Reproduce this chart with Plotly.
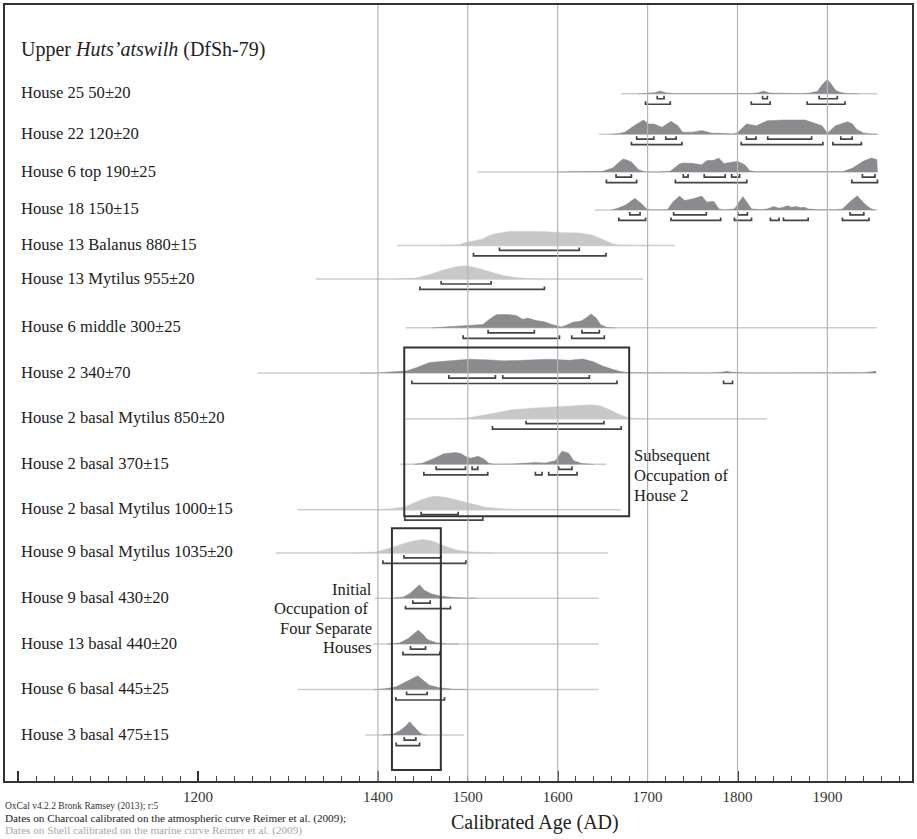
import plotly.graph_objects as go

# ======================= DATA =======================
LABELS = ["House 25 50±20", "House 22 120±20", "House 6 top 190±25", "House 18 150±15",
          "House 13 Balanus 880±15", "House 13 Mytilus 955±20", "House 6 middle 300±25",
          "House 2 340±70", "House 2 basal Mytilus 850±20", "House 2 basal 370±15",
          "House 2 basal Mytilus 1000±15", "House 9 basal Mytilus 1035±20",
          "House 9 basal 430±20", "House 13 basal 440±20", "House 6 basal 445±25",
          "House 3 basal 475±15"]
MATERIAL = ["charcoal", "charcoal", "charcoal", "charcoal", "shell", "shell", "charcoal",
            "charcoal", "shell", "charcoal", "shell", "shell", "charcoal", "charcoal",
            "charcoal", "charcoal"]
SPAN_START = [1670.6, 1645.8, 1511, 1641.2, 1421.5, 1330.8, 1430.7, 1266, 1431, 1425,
              1310.5, 1286.3, 1396.3, 1395, 1311, 1386]
SPAN_END = [1955.7, 1955.7, 1955.7, 1955.7, 1730.5, 1695.2, 1955, 1954, 1833, 1654,
            1670.4, 1655.6, 1645.6, 1645.6, 1645.6, 1495.6]

# calibrated probability profiles (year, relative probability)
h25_yr = [1690, 1700, 1708, 1714, 1720, 1730, 1760, 1800, 1815, 1822, 1829, 1836, 1850, 1870,
          1880, 1889, 1894, 1900, 1904, 1909, 1914, 1920, 1935]
h25_p = [0, 0.02, 0.08, 0.2, 0.08, 0.02, 0.01, 0.01, 0.02, 0.05, 0.19, 0.05, 0.02, 0.02,
         0.05, 0.17, 0.64, 1.0, 0.71, 0.24, 0.1, 0.03, 0]
h22_yr = [1660, 1668.7, 1675, 1685, 1695.4, 1701, 1707, 1716, 1726, 1733.6, 1739, 1750, 1760,
          1766, 1772, 1777, 1783, 1795, 1800, 1806, 1810, 1821, 1833, 1852, 1875, 1886, 1894,
          1900, 1903.4, 1909, 1922.5, 1928, 1932, 1940, 1947, 1955.7]
h22_p = [0, 0.05, 0.15, 0.6, 1.0, 0.72, 0.72, 0.49, 0.91, 0.6, 0.14, 0.14, 0.26, 0.14, 0.07,
         0.07, 0.05, 0.02, 0.1, 0.49, 0.72, 0.6, 0.95, 1.0, 1.0, 0.77, 0.6, 0.07, 0.26, 0.6,
         0.88, 0.72, 0.37, 0.09, 0.02, 0]
h6top_yr = [1600, 1640, 1650, 1661, 1667, 1672.5, 1677, 1682, 1690, 1697, 1710, 1725, 1729.8,
            1735, 1739, 1749, 1760, 1766, 1773.7, 1779, 1785, 1794.7, 1800, 1808, 1813.7, 1820,
            1850, 1900, 1916.8, 1928, 1939.7, 1949, 1955, 1955.7]
h6top_p = [0, 0.01, 0.05, 0.29, 0.6, 0.93, 0.85, 0.71, 0.17, 0.02, 0, 0.05, 0.29, 0.55, 0.64,
           0.62, 0.52, 0.81, 0.83, 1.0, 0.6, 0.69, 0.76, 0.52, 0.1, 0.02, 0.01, 0.01, 0.02,
           0.29, 0.76, 1.0, 0.88, 0]
h18_yr = [1660, 1666.8, 1676, 1685.9, 1693.5, 1699, 1705, 1722, 1727.9, 1735.5, 1741.2, 1750.8,
          1760.3, 1766, 1770, 1773.7, 1779.4, 1785, 1796.6, 1801, 1806, 1811, 1815.6, 1825,
          1832.8, 1840.5, 1846.2, 1851, 1855.7, 1860, 1865.3, 1870, 1874.8, 1878.6, 1890, 1910,
          1916.8, 1924.4, 1933.2, 1941.6, 1948, 1953]
h18_p = [0, 0.12, 0.36, 0.83, 0.43, 0.07, 0, 0.02, 0.55, 0.98, 0.67, 0.79, 0.98, 0.55, 0.6,
         0.6, 0.07, 0, 0.07, 0.5, 0.95, 0.5, 0.07, 0.02, 0.07, 0.24, 0.12, 0.2, 0.29, 0.2, 0.24,
         0.17, 0.19, 0.07, 0.01, 0.02, 0.07, 0.55, 1.0, 0.43, 0.1, 0]
h13bal_yr = [1470, 1479.6, 1490, 1498, 1507, 1516.7, 1524, 1531.5, 1546, 1579.6, 1609, 1624,
             1639, 1650, 1661, 1668.5, 1680]
h13bal_p = [0, 0.02, 0.05, 0.21, 0.32, 0.45, 0.7, 0.83, 0.98, 0.98, 0.9, 0.88, 0.71, 0.4,
            0.12, 0.02, 0]
h13myt_yr = [1420, 1442.6, 1457.4, 1472, 1487, 1496.3, 1509.3, 1524, 1539, 1553.7, 1572, 1590]
h13myt_p = [0, 0.07, 0.31, 0.62, 0.86, 0.93, 0.79, 0.5, 0.24, 0.1, 0.02, 0]
h6mid_yr = [1460, 1479.6, 1498, 1516.7, 1524, 1531.5, 1542.6, 1553.7, 1561, 1566.7, 1576,
            1585.2, 1592.6, 1603.7, 1609, 1616.7, 1626, 1631.5, 1637, 1642.6, 1648, 1655.6,
            1665]
h6mid_p = [0, 0.07, 0.17, 0.24, 0.6, 0.93, 0.95, 0.88, 0.6, 0.69, 0.52, 0.43, 0.26, 0.07,
           0.17, 0.4, 0.48, 0.69, 0.98, 0.71, 0.21, 0.02, 0]
h2_yr = [1380, 1400, 1413, 1431.5, 1442.6, 1457.4, 1479.6, 1501.9, 1524, 1539, 1561, 1590.7,
         1613, 1627.8, 1639, 1650, 1661, 1670.4, 1680, 1700, 1770, 1782, 1788, 1794, 1810,
         1940, 1950, 1954, 1954.1]
h2_p = [0, 0.01, 0.07, 0.14, 0.38, 0.74, 0.86, 0.98, 0.93, 0.86, 0.9, 0.98, 0.9, 1.0, 0.81,
        0.5, 0.26, 0.1, 0.02, 0.01, 0.01, 0.05, 0.12, 0.05, 0.01, 0.02, 0.1, 0.12, 0]
h2myt850_yr = [1480, 1497.4, 1512, 1530.7, 1549, 1571.5, 1597.4, 1616, 1638, 1647.4, 1656.7,
               1667.8, 1678.9, 1690]
h2myt850_p = [0, 0.02, 0.19, 0.43, 0.62, 0.74, 0.83, 0.9, 0.98, 0.9, 0.67, 0.31, 0.05, 0]
h2b370_yr = [1440, 1449.3, 1460.4, 1473.3, 1486.3, 1493, 1497.4, 1503, 1511.5, 1517.8, 1523.3,
             1530, 1545, 1556.7, 1575.2, 1586.3, 1597.4, 1604.8, 1612.2, 1617.8, 1627, 1640]
h2b370_p = [0, 0.07, 0.36, 0.74, 0.83, 0.75, 0.55, 0.43, 0.57, 0.38, 0.07, 0.01, 0.01, 0.05,
            0.12, 0.1, 0.26, 0.93, 0.79, 0.26, 0.05, 0]
h2myt1000_yr = [1395, 1412.2, 1430.7, 1445.6, 1456.7, 1464, 1475.2, 1490, 1504.8, 1519.6,
                1541.9, 1560]
h2myt1000_p = [0, 0.05, 0.21, 0.64, 0.88, 0.95, 0.88, 0.64, 0.36, 0.17, 0.05, 0]
h9myt_yr = [1370, 1398.1, 1416.7, 1431.5, 1442.6, 1450, 1461, 1472.2, 1487, 1505.6, 1527.8]
h9myt_p = [0, 0.07, 0.4, 0.71, 0.88, 0.95, 0.83, 0.52, 0.21, 0.05, 0]
h9b430_yr = [1415, 1427.8, 1435.2, 1441.9, 1446.3, 1451.9, 1459.3, 1470.4, 1483.3, 1498, 1510]
h9b430_p = [0, 0.07, 0.31, 0.69, 0.95, 0.55, 0.31, 0.14, 0.05, 0.01, 0]
h13b440_yr = [1410, 1424, 1433.3, 1439.6, 1444.8, 1450, 1455.6, 1464.8, 1476, 1490]
h13b440_p = [0, 0.07, 0.38, 0.69, 0.98, 0.69, 0.31, 0.1, 0.01, 0]
h6b445_yr = [1395, 1408, 1420.4, 1431.5, 1438.9, 1444.4, 1450, 1457.4, 1468.5, 1483.3, 1500]
h6b445_p = [0, 0.05, 0.19, 0.55, 0.79, 0.98, 0.67, 0.31, 0.12, 0.02, 0]
h3b475_yr = [1405, 1416.7, 1424, 1430.4, 1435.2, 1440.7, 1446.3, 1450, 1455]
h3b475_p = [0, 0.07, 0.29, 0.6, 0.95, 0.55, 0.19, 0.02, 0]

# 68.2% and 95.4% highest probability ranges (AD)
h25_r68 = [[1710.7, 1718.3], [1827.9, 1833.2], [1890.8, 1911]]
h25_r95 = [[1697.7, 1725.2], [1815.3, 1836.3], [1877.5, 1919.5]]
h22_r68 = [[1687.8, 1706.9], [1720.2, 1731.7], [1809.9, 1820.6], [1833.6, 1882.4], [1914.9, 1927.5]]
h22_r95 = [[1682, 1738.2], [1804.2, 1895], [1906.1, 1937.8]]
h6top_r68 = [[1664.9, 1682], [1739.7, 1745], [1763, 1786.3], [1793.5, 1802.3], [1938.9, 1953]]
h6top_r95 = [[1654.2, 1687.8], [1730.9, 1810.3], [1927.1, 1955.7]]
h18_r68 = [[1680.2, 1691.6], [1729, 1765.3], [1800.4, 1811], [1925.2, 1940.5]]
h18_r95 = [[1668, 1697.7], [1726, 1781.3], [1796.6, 1815.6], [1836.6, 1846.2], [1851.1, 1878.6],
           [1916.8, 1946.2]]
h13bal_r68 = [[1535.2, 1624]]
h13bal_r95 = [[1506.3, 1653.7]]
h13myt_r68 = [[1470.4, 1525.9]]
h13myt_r95 = [[1446.7, 1585.2]]
h6mid_r68 = [[1522.6, 1574], [1627, 1646.3]]
h6mid_r95 = [[1494.8, 1601.9], [1615.6, 1651.9]]
h2_r68 = [[1478.9, 1530.7], [1538.9, 1635.2]]
h2_r95 = [[1437.8, 1665.9], [1784.5, 1794.5]]
h2myt850_r68 = [[1564.8, 1651.5]]
h2myt850_r95 = [[1527.4, 1670.7]]
h2b370_r68 = [[1464.8, 1497.4], [1504.8, 1511.1], [1601.1, 1615.9]]
h2b370_r95 = [[1451.1, 1522.2], [1575.2, 1582.6], [1590, 1621.5]]
h2myt1000_r68 = [[1448.1, 1489.3]]
h2myt1000_r95 = [[1430, 1516.7]]
h9myt_r68 = [[1428.9, 1470.4]]
h9myt_r95 = [[1405.6, 1497.8]]
h9b430_r68 = [[1438.9, 1458.1]]
h9b430_r95 = [[1430.7, 1480.7]]
h13b440_r68 = [[1436.3, 1453]]
h13b440_r95 = [[1427.8, 1468.9]]
h6b445_r68 = [[1431.9, 1454.8]]
h6b445_r95 = [[1420, 1474.1]]
h3b475_r68 = [[1429.3, 1442.2]]
h3b475_r95 = [[1420.4, 1446.3]]

PROFILE_YEARS = [h25_yr, h22_yr, h6top_yr, h18_yr, h13bal_yr, h13myt_yr, h6mid_yr, h2_yr,
                 h2myt850_yr, h2b370_yr, h2myt1000_yr, h9myt_yr, h9b430_yr, h13b440_yr,
                 h6b445_yr, h3b475_yr]
PROFILE_PROB = [h25_p, h22_p, h6top_p, h18_p, h13bal_p, h13myt_p, h6mid_p, h2_p, h2myt850_p,
                h2b370_p, h2myt1000_p, h9myt_p, h9b430_p, h13b440_p, h6b445_p, h3b475_p]
RANGES_68 = [h25_r68, h22_r68, h6top_r68, h18_r68, h13bal_r68, h13myt_r68, h6mid_r68, h2_r68,
             h2myt850_r68, h2b370_r68, h2myt1000_r68, h9myt_r68, h9b430_r68, h13b440_r68,
             h6b445_r68, h3b475_r68]
RANGES_95 = [h25_r95, h22_r95, h6top_r95, h18_r95, h13bal_r95, h13myt_r95, h6mid_r95, h2_r95,
             h2myt850_r95, h2b370_r95, h2myt1000_r95, h9myt_r95, h9b430_r95, h13b440_r95,
             h6b445_r95, h3b475_r95]

# grouping boxes (AD extents)
BOX_SUBSEQUENT = [1429.3, 1679.5]
BOX_INITIAL = [1415.6, 1470.0]

# axis
LABEL_YEARS = [1200, 1400, 1500, 1600, 1700, 1800, 1900]
MAJOR_TICKS = [1000, 1200, 1400, 1600, 1800]
GRID_YEARS = [1400, 1500, 1600, 1700, 1800, 1900]

# ======================= LAYOUT CONSTANTS =======================
W, H = 917, 839
ML, MR, MT, MB = 5, 4, 3, 58
ROW_Y = [92, 132.5, 170.5, 208.5, 244, 277.7, 326.7, 372, 417.7, 463.5, 509, 552.3, 597.7,
         643.7, 689.3, 735]
PEAK_PX = 14.2
BR68_OFF, BR95_OFF, BR_TICK = 5.0, 10.5, 3.0
FONT = "Liberation Serif"
DARK = "#8a8a8f"
LIGHT = "#c8c8cb"
BASE_COL = "#cdcdcd"
BR_COL = "#444444"
FRAME = "#333333"

PLOT_W = W - ML - MR
PLOT_H = H - MT - MB


def px_x(px):
    return (px - ML) / PLOT_W


def px_y(py):
    return (H - MB - py) / PLOT_H


fig = go.Figure()

for i in range(len(LABELS)):
    yb = ROW_Y[i]
    col = DARK if MATERIAL[i] == "charcoal" else LIGHT
    # baseline
    fig.add_trace(go.Scatter(x=[SPAN_START[i], SPAN_END[i]], y=[yb, yb], mode="lines",
                             line=dict(color=BASE_COL, width=1.5), hoverinfo="skip",
                             showlegend=False))
    # probability distribution
    fig.add_trace(go.Scatter(x=PROFILE_YEARS[i], y=[yb - PEAK_PX * p for p in PROFILE_PROB[i]],
                             mode="lines", fill="toself", fillcolor=col,
                             line=dict(color=col, width=0.5), hoverinfo="skip",
                             showlegend=False))
    # range brackets
    bx, by = [], []
    for ranges, off in ((RANGES_68[i], BR68_OFF), (RANGES_95[i], BR95_OFF)):
        yy = yb + off
        for a, b in ranges:
            bx += [a, a, b, b, None]
            by += [yy - BR_TICK, yy, yy, yy - BR_TICK, None]
    fig.add_trace(go.Scatter(x=bx, y=by, mode="lines", line=dict(color=BR_COL, width=1.7),
                             hoverinfo="skip", showlegend=False))

# dummy trace so the major-tick overlay axis is rendered
fig.add_trace(go.Scatter(x=[1000], y=[-1000], xaxis="x2", mode="markers",
                         marker=dict(opacity=0), hoverinfo="skip", showlegend=False))

shapes = []
for yr in GRID_YEARS:
    shapes.append(dict(type="line", xref="x", yref="paper", x0=yr, x1=yr, y0=0, y1=1,
                       line=dict(color="#b4b4b4", width=1.2), layer="above"))
shapes.append(dict(type="rect", xref="x", yref="y", x0=BOX_SUBSEQUENT[0], x1=BOX_SUBSEQUENT[1],
                   y0=346.5, y1=515.5, line=dict(color=FRAME, width=2), layer="above"))
shapes.append(dict(type="rect", xref="x", yref="y", x0=BOX_INITIAL[0], x1=BOX_INITIAL[1],
                   y0=527.7, y1=770, line=dict(color=FRAME, width=2), layer="above"))

ann = []
ann.append(dict(text="Upper <i>Huts’atswilh</i> (DfSh-79)", xref="paper", yref="y",
                x=px_x(19), y=47.5, xanchor="left", yanchor="middle", showarrow=False,
                font=dict(family=FONT, size=20, color="#222")))
for i, lab in enumerate(LABELS):
    ann.append(dict(text=lab, xref="paper", yref="y", x=px_x(19), y=ROW_Y[i] - 1,
                    xanchor="left", yanchor="middle", showarrow=False,
                    font=dict(family=FONT, size=16.6, color="#222")))
for txt, yy in (("Subsequent", 455), ("Occupation of", 475), ("House 2", 494.5)):
    ann.append(dict(text=txt, xref="paper", yref="y", x=px_x(633), y=yy, xanchor="left",
                    yanchor="middle", showarrow=False,
                    font=dict(family=FONT, size=16.5, color="#222")))
for txt, yy in (("Initial", 589), ("Occupation of\u00a0", 608.5), ("Four Separate", 628),
                ("Houses", 647.5)):
    ann.append(dict(text=txt, xref="paper", yref="y", x=px_x(374), y=yy, xanchor="right",
                    yanchor="middle", showarrow=False,
                    font=dict(family=FONT, size=16.5, color="#222")))
ann.append(dict(text="Calibrated Age (AD)", xref="paper", yref="paper", x=px_x(536),
                y=px_y(823), xanchor="center", yanchor="middle", showarrow=False,
                font=dict(family=FONT, size=20, color="#222")))
ann.append(dict(text="OxCal v4.2.2 Bronk Ramsey (2013); r:5", xref="paper", yref="paper",
                x=px_x(4), y=px_y(807), xanchor="left", yanchor="middle", showarrow=False,
                borderpad=0, font=dict(family=FONT, size=9.5, color="#333")))
ann.append(dict(text="Dates on Charcoal calibrated on the atmospheric curve Reimer et al. (2009);",
                xref="paper", yref="paper", x=px_x(4), y=px_y(818.5), xanchor="left",
                yanchor="middle", showarrow=False, borderpad=0,
                font=dict(family=FONT, size=11.2, color="#222")))
ann.append(dict(text="Dates on Shell calibrated on the marine curve Reimer et al. (2009)",
                xref="paper", yref="paper", x=px_x(4), y=px_y(830.8), xanchor="left",
                yanchor="middle", showarrow=False, borderpad=0,
                font=dict(family=FONT, size=11.2, color="#a8a8a8")))

XR = [985.2, 1994.1]
fig.update_layout(
    width=W, height=H, autosize=False,
    margin=dict(l=ML, r=MR, t=MT, b=MB, pad=0),
    paper_bgcolor="white", plot_bgcolor="white",
    showlegend=False,
    shapes=shapes, annotations=ann,
    xaxis=dict(range=XR, tickmode="array", tickvals=LABEL_YEARS,
               ticktext=[str(v) for v in LABEL_YEARS], ticks="", showgrid=False,
               zeroline=False, showline=True, linecolor=FRAME, linewidth=2, mirror=True,
               tickfont=dict(family=FONT, size=15, color="#333"), ticklabelstandoff=1,
               minor=dict(tickmode="linear", tick0=1000, dtick=20, ticks="inside", ticklen=5,
                          tickwidth=1, tickcolor="#444", showgrid=False),
               fixedrange=True),
    xaxis2=dict(range=XR, overlaying="x", anchor="y", side="bottom", tickmode="array",
                tickvals=MAJOR_TICKS, ticks="inside", ticklen=10, tickwidth=2,
                tickcolor=FRAME, showticklabels=False, showgrid=False, zeroline=False,
                showline=False, fixedrange=True),
    yaxis=dict(range=[H - MB, MT], showline=True, linecolor=FRAME, linewidth=2, mirror=True,
               ticks="", showticklabels=False, showgrid=False, zeroline=False,
               fixedrange=True),
)

fig.write_html("out.html", config=dict(displayModeBar=False, staticPlot=True),
               post_script="document.body.style.margin='0px';document.body.style.overflow='hidden';")
